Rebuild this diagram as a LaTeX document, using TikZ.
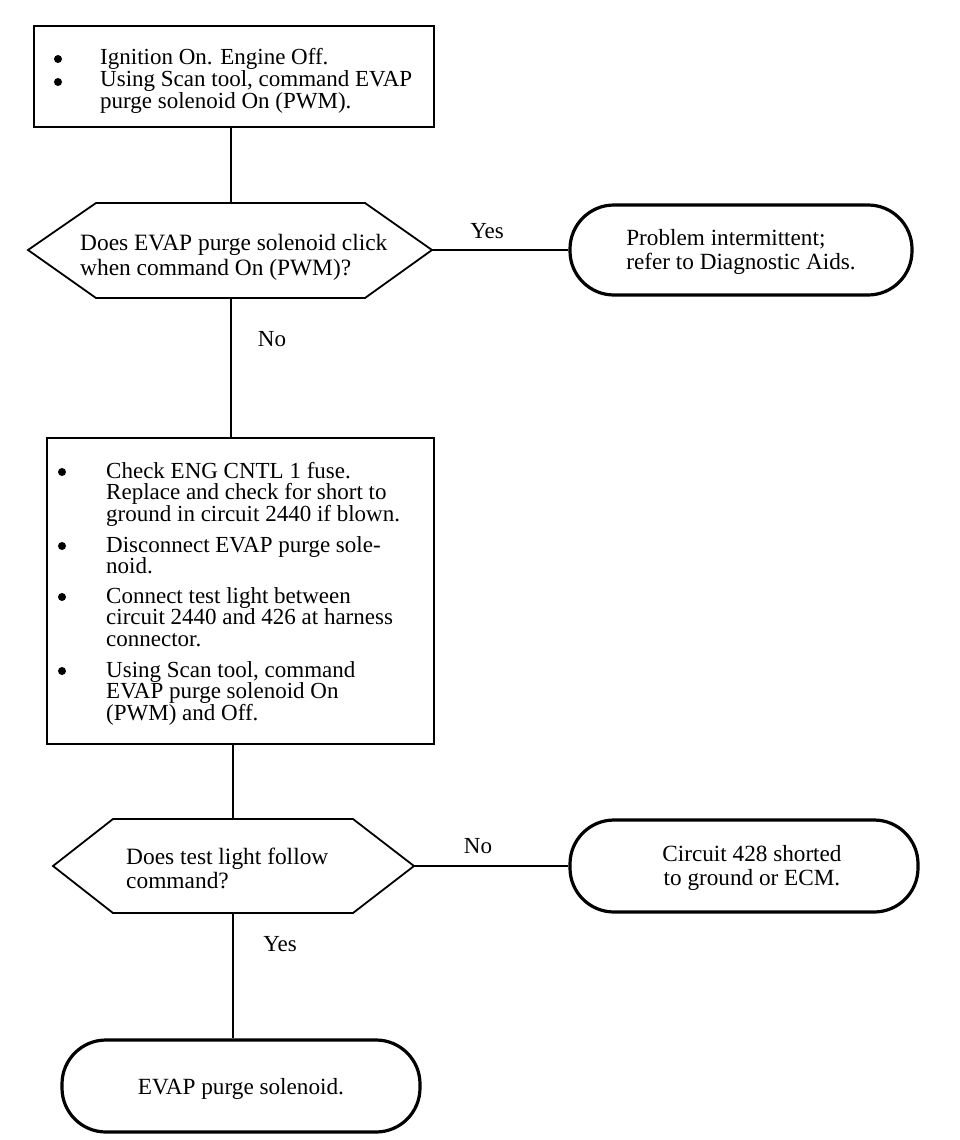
\documentclass[tikz,border=0pt]{standalone}
\usepackage{fontspec}
\setmainfont{Liberation Serif}
\tikzset{
  boxshape/.style={draw, line width=1.8pt, rectangle, inner sep=0pt, anchor=north west},
  hexline/.style={draw, line width=1.8pt, line join=miter},
  ovalshape/.style={draw, line width=3.2pt, rounded corners=44pt, inner sep=0pt,
    font=\fontsize{23.2}{23.5}\selectfont},
  itemtxt/.style={anchor=base west, inner sep=0pt, align=left,
    font=\fontsize{23}{21.7}\selectfont},
  itemtxtA/.style={anchor=base west, inner sep=0pt, align=left,
    font=\fontsize{23}{20.5}\selectfont},
  qtxt/.style={anchor=base west, inner sep=0pt, align=left,
    font=\fontsize{23.4}{24.5}\selectfont},
  conn/.style={line width=1.6pt},
  lbl/.style={inner sep=0pt, font=\fontsize{23}{24}\selectfont},
  dot/.style={fill=black},
}
\begin{document}
\begin{tikzpicture}[x=1pt,y=-1pt]
\useasboundingbox[fill=white] (0,0) rectangle (960,1140);

% ---- box 1  (node base = baseline of the last line)
\node[boxshape, minimum width=400pt, minimum height=101pt] (b1) at (33,25) {};
\fill[dot] (58,59) circle (4pt);
\node[itemtxt] (b1i1) at (100,65) {Ignition On. Engine Off.};
\fill[dot] (58,82) circle (4pt);
\node[itemtxtA] (b1i2) at (100,108.5) {Using Scan tool, command EVAP\\purge solenoid On (PWM).};

% ---- decision 1
\coordinate (h1w) at (28,250);
\coordinate (h1e) at (432,250);
\coordinate (h1n) at (231,203);
\coordinate (h1s) at (231,298);
\draw[hexline] (h1w) -- (96,203) -- (365,203) -- (h1e) -- (365,298) -- (96,298) -- cycle;
\node[qtxt] (h1) at (80,275) {Does EVAP purge solenoid click\\when command On (PWM)?};

% ---- oval 1
\node[ovalshape, minimum width=342pt, minimum height=90pt, align=left] (o1) at (741,250)
  {\rule{0pt}{20pt}Problem intermittent;\\refer to Diagnostic Aids.};

% ---- box 2
\node[boxshape, minimum width=387pt, minimum height=306pt] (b2) at (46,437) {};
\fill[dot] (62,472) circle (4pt);
\node[itemtxt] (b2i1) at (106,521.4) {Check ENG CNTL 1 fuse.\\Replace and check for short to\\ground in circuit 2440 if blown.};
\fill[dot] (62,546) circle (4pt);
\node[itemtxt] (b2i2) at (106,573.7) {Disconnect EVAP purge sole-\\noid.};
\fill[dot] (62,597) circle (4pt);
\node[itemtxt] (b2i3) at (106,646.4) {Connect test light between\\circuit 2440 and 426 at harness\\connector.};
\fill[dot] (62,671) circle (4pt);
\node[itemtxt] (b2i4) at (106,720.4) {Using Scan tool, command\\EVAP purge solenoid On\\(PWM) and Off.};

% ---- decision 2
\coordinate (h2w) at (53,866);
\coordinate (h2e) at (414,866);
\coordinate (h2n) at (233,819);
\coordinate (h2s) at (233,913);
\draw[hexline] (h2w) -- (113,819) -- (353,819) -- (h2e) -- (353,913) -- (113,913) -- cycle;
\node[qtxt] (h2) at (126,888.5) {Does test light follow\\command?};

% ---- oval 2
\node[ovalshape, minimum width=348pt, minimum height=92pt, align=center] (o2) at (744,866)
  {\rule{0pt}{20pt}\hspace*{16pt}Circuit 428 shorted\\\hspace*{16pt}to ground or ECM.};

% ---- oval 3
\node[ovalshape, minimum width=358pt, minimum height=92pt] (o3) at (241,1086)
  {\rule{0pt}{21pt}EVAP purge solenoid.};

% ---- connectors
\draw[conn] (h1n |- b1.south) -- (h1n);
\draw[conn] (h1e) -- (o1.west);
\draw[conn] (h1s) -- (h1s |- b2.north);
\draw[conn] (h2n |- b2.south) -- (h2n);
\draw[conn] (h2e) -- (o2.west);
\draw[conn] (h2s) -- (h2s |- o3.north);

% ---- labels
\node[lbl] (lyes1) at (487,231) {Yes};
\node[lbl] (lno1) at (272,339) {No};
\node[lbl] (lno2) at (478,846) {No};
\node[lbl] (lyes2) at (280,944) {Yes};
\end{tikzpicture}
\end{document}
